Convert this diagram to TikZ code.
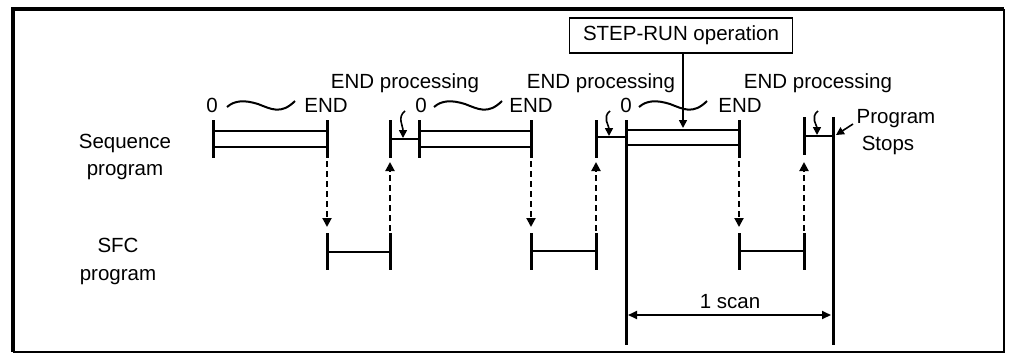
\documentclass[tikz,border=0pt]{standalone}
\usepackage{fontspec}
\setmainfont{Liberation Sans}
\usetikzlibrary{arrows.meta}

\newcommand{\wavy}[1]{%
  \draw[wave] (#1,107) .. controls ({#1+8},100) and ({#1+18},100) .. ({#1+31},104)
    .. controls ({#1+44},109) and ({#1+54},115) .. ({#1+68},101);}

\begin{document}
\begin{tikzpicture}[x=1pt,y=-1pt,
  lbl/.style={font=\fontsize{20.5}{24}\selectfont, anchor=base, inner sep=0pt},
  tick/.style={line width=3pt},
  bar/.style={line width=2pt},
  wave/.style={line width=2pt},
  dasharrow/.style={line width=2pt, dash pattern=on 6pt off 4pt, -{Triangle[length=9pt,width=9pt]}},
  tiparrow/.style={line width=1.6pt, -{Triangle[length=8pt,width=8pt]}}]

\useasboundingbox (0,0) rectangle (1009,354);

%%% 枠
\draw[line width=2.6pt] (1004,9) -- (1004,352) -- (13,352);
\draw[line width=3.6pt] (13,352) -- (13,9) -- (1004,9);

%% 目盛り
\foreach \n/\x in {s1a/213, s1b/327, e1b/390, s2a/419, s2b/531, e2b/596, s3b/739} {
  \coordinate (\n) at (\x,120);
  \coordinate (\n-lo) at (\x,158);
  \draw[tick] (\n) -- (\n-lo);
}
\coordinate (s3a) at (626,120);
\coordinate (s3a-lo) at (626,345);
\draw[tick] (s3a) -- (s3a-lo);
\coordinate (e3b) at (804,117);
\coordinate (e3b-lo) at (804,155);
\draw[tick] (e3b) -- (e3b-lo);
\coordinate (e3c) at (833,117);
\coordinate (e3c-lo) at (833,345);
\draw[tick] (e3c) -- (e3c-lo);

% SFC
\foreach \n/\x in {f1a/327, f1b/390, f2a/531, f2b/596, f3a/739, f3b/804} {
  \coordinate (\n) at (\x,233);
  \coordinate (\n-lo) at (\x,270);
  \draw[tick] (\n) -- (\n-lo);
}

%% 線
\draw[bar] (213,131) -- (327,131);
\draw[bar] (213,147) -- (327,147);
\draw[bar] (419,131) -- (531,131);
\draw[bar] (419,147) -- (531,147);
\draw[bar] (626,130) -- (739,130);
\draw[bar] (626,145) -- (739,145);

\draw[bar] (390,139) -- (419,139);
\draw[bar] (596,137) -- (626,137);
\draw[bar] (804,136) -- (833,136);

\draw[bar] (327,252) -- (390,252);
\draw[bar] (531,251) -- (596,251);
\draw[bar] (739,251) -- (804,251);

\wavy{227}
\wavy{434}
\wavy{639}

%% 矢印
\draw[dasharrow] (327,161) -- (327,227);
\draw[dasharrow] (390,231) -- (390,162);
\draw[dasharrow] (531,161) -- (531,227);
\draw[dasharrow] (596,231) -- (596,162);
\draw[dasharrow] (739,161) -- (739,227);
\draw[dasharrow] (804,231) -- (804,162);

\draw[tiparrow] (405,111) .. controls (397,117) and (403,126) .. (403,138);
\draw[tiparrow] (610,111) .. controls (602,117) and (609,126) .. (609,136);
\draw[tiparrow] (818,111) .. controls (810,117) and (817,126) .. (817,135);

\node[draw, line width=1.8pt, minimum width=223pt, minimum height=35pt,
  inner sep=0pt, font=\fontsize{20.5}{24}\selectfont] (step) at (681,35.5) {STEP-RUN operation};
\coordinate (steptip) at (683,128);
\draw[tiparrow] (step.south -| steptip) -- (steptip);

\coordinate (stoptip) at (836,135);
\draw[tiparrow] (853,124) -- (stoptip);

\draw[line width=1.8pt, {Triangle[length=9pt,width=8pt]}-{Triangle[length=9pt,width=8pt]}]
  (628,315) -- (831,315);

%% 文字
\node[lbl] (seq) at (125,148) {Sequence};
\node[lbl] (seqp) at (125,175) {program};
\node[lbl] (sfc) at (118,252) {SFC};
\node[lbl] (sfcp) at (118,280) {program};

\node[lbl] (zero1) at (212,112) {0};
\node[lbl] (zero2) at (421,112) {0};
\node[lbl] (zero3) at (626,112) {0};
\node[lbl] (end1) at (326,112) {END};
\node[lbl] (end2) at (531,112) {END};
\node[lbl] (end3) at (740,112) {END};

\node[lbl] (proc1) at (405,88) {END processing};
\node[lbl] (proc2) at (601,88) {END processing};
\node[lbl] (proc3) at (818,88) {END processing};

\node[lbl] (prog) at (896,123) {Program};
\node[lbl] (stops) at (888,150) {Stops};
\node[lbl] (scan) at (730,308) {1 scan};

\end{tikzpicture}
\end{document}
